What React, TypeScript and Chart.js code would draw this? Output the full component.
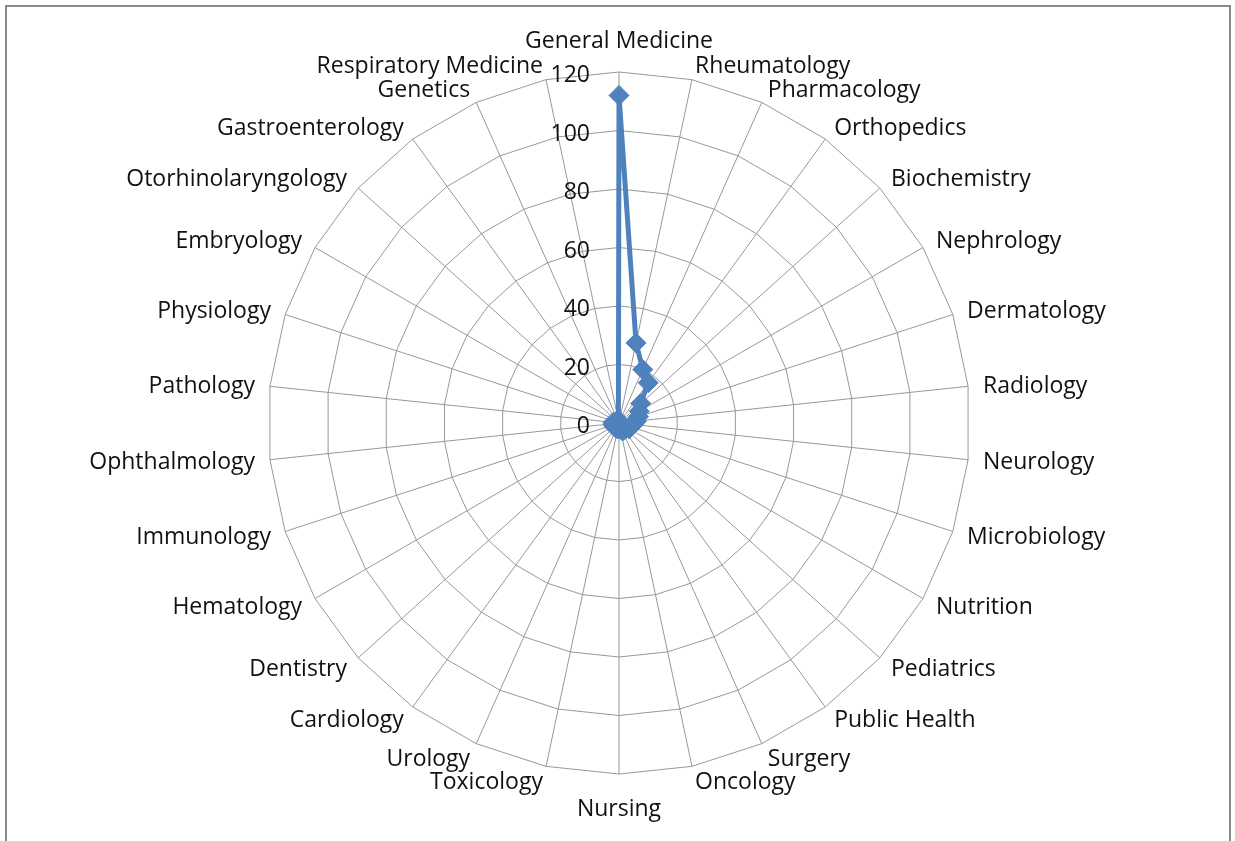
import React, { useEffect, useRef } from "react";
import { Chart, registerables } from "chart.js";

Chart.register(...registerables);

const categories = [
  "General Medicine", "Rheumatology", "Pharmacology", "Orthopedics", "Biochemistry",
  "Nephrology", "Dermatology", "Radiology", "Neurology", "Microbiology",
  "Nutrition", "Pediatrics", "Public Health", "Surgery", "Oncology",
  "Nursing", "Toxicology", "Urology", "Cardiology", "Dentistry",
  "Hematology", "Immunology", "Ophthalmology", "Pathology", "Physiology",
  "Embryology", "Otorhinolaryngology", "Gastroenterology", "Genetics", "Respiratory Medicine",
];

const counts = [
  112, 28, 20, 17, 10,
  8, 7, 6, 5, 4,
  4, 3, 3, 3, 2,
  2, 2, 2, 2, 2,
  2, 2, 2, 2, 1,
  1, 1, 1, 1, 1,
];

const tickValues = [0, 20, 40, 60, 80, 100, 120];

const FONT = "'Open Sans', sans-serif";
const FONT_SIZE = 23;

const labelPlugin = {
  id: "excelLabels",
  afterDraw(chart: any) {
    const scale = chart.scales.r;
    const ctx = chart.ctx;
    const outer = scale.drawingArea;
    const capHalf = FONT_SIZE * 0.357;
    ctx.save();
    ctx.font = `${FONT_SIZE}px ${FONT}`;
    ctx.fillStyle = "#111";
    ctx.textBaseline = "alphabetic";
    ctx.textAlign = "right";
    tickValues.forEach((v) => {
      const d = scale.getDistanceFromCenterForValue(v);
      ctx.fillText(String(v), scale.xCenter - 29, scale.yCenter - d + 2 + capHalf);
    });
    const n = categories.length;
    categories.forEach((label, i) => {
      const deg = (i * 360) / n;
      if (deg === 0 || deg === 180) {
        const p = scale.getPointPosition(i, outer);
        ctx.textAlign = "center";
        const dy = deg === 0 ? -32 : 34;
        ctx.fillText(label, p.x, p.y + dy + capHalf);
      } else {
        const p = scale.getPointPosition(i, outer + 15);
        ctx.textAlign = deg < 180 ? "left" : "right";
        ctx.fillText(label, p.x, p.y + capHalf);
      }
    });
    ctx.restore();
  },
};

export default function App() {
  const ref = useRef<HTMLCanvasElement>(null);
  useEffect(() => {
    if (!ref.current) return;
    const chart = new Chart(ref.current, {
      type: "radar",
      data: {
        labels: categories,
        datasets: [
          {
            data: counts,
            borderColor: "#4F81BD",
            backgroundColor: "#4F81BD",
            borderWidth: 5,
            pointStyle: "rectRot",
            pointRadius: 10,
            pointBorderWidth: 1,
            pointBackgroundColor: "#4F81BD",
            pointBorderColor: "#4F81BD",
            fill: false,
          },
        ],
      },
      plugins: [labelPlugin],
      options: {
        animation: false,
        responsive: false,
        maintainAspectRatio: false,
        layout: { padding: { top: 72, bottom: 67, left: 150, right: 147 } },
        plugins: { legend: { display: false }, tooltip: { enabled: false } },
        scales: {
          r: {
            min: 0,
            max: 120,
            ticks: { stepSize: 20, display: false },
            grid: { color: "#989898", lineWidth: 1 },
            angleLines: { color: "#989898", lineWidth: 1 },
            pointLabels: { display: false },
          },
        },
      },
    });
    return () => chart.destroy();
  }, []);
  return (
    <div style={{ position: "absolute", left: 0, top: 0, width: 1235, height: 841, background: "#fff", overflow: "hidden" }}>
      <div style={{ position: "absolute", left: 5, top: 5, width: 1222, height: 860, border: "2px solid #8a8a8a" }} />
      <canvas ref={ref} width={1235} height={841} style={{ position: "absolute", left: 0, top: 0 }} />
    </div>
  );
}
